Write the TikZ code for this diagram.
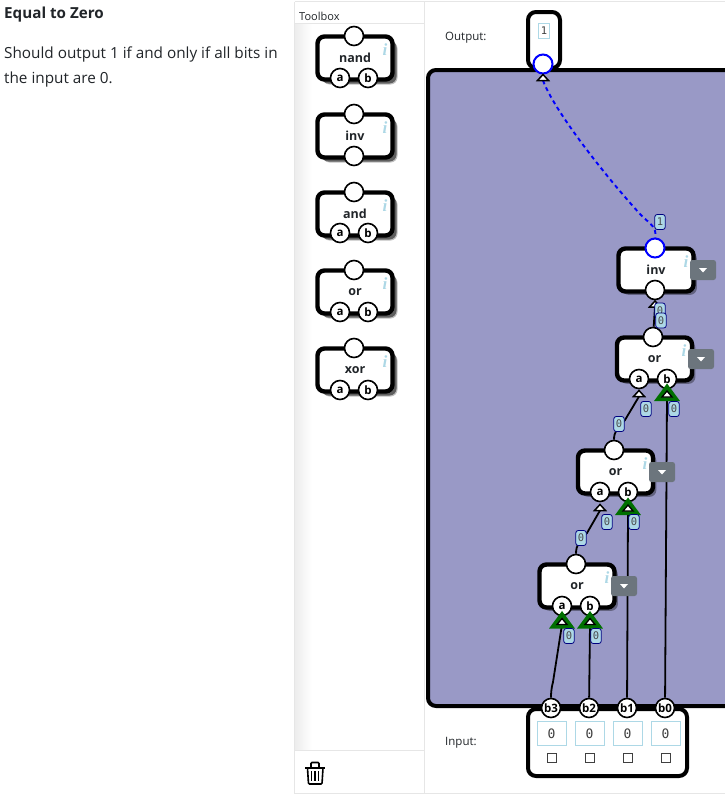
\documentclass[tikz,border=0pt]{standalone}
\usepackage{fontspec}
\setmainfont{Open Sans}
\newfontfamily\monof{DejaVu Sans Mono}
\newfontfamily\ifont{Liberation Serif}
\usetikzlibrary{shadows}
\pgfdeclarelayer{back}
\pgfdeclarelayer{wires}
\pgfsetlayers{back,wires,main}
\definecolor{board}{HTML}{9999C6}
\definecolor{tagfill}{HTML}{ADD8E6}
\definecolor{txt}{HTML}{212529}
\definecolor{btn}{HTML}{6C757D}
\definecolor{rulec}{HTML}{E6E6E6}
\definecolor{gate}{HTML}{007000}
\tikzset{
  gatebox/.style={draw=black,line width=4.4pt,fill=white,rounded corners=7pt,minimum width=75pt,minimum height=43pt,inner sep=0pt},
  toolshadow/.style={drop shadow={shadow xshift=5pt,shadow yshift=-5pt,fill=black,opacity=.25},drop shadow={shadow xshift=4pt,shadow yshift=-4pt,fill=black,opacity=.5}},
  boardshadow/.style={drop shadow={shadow xshift=3.4pt,shadow yshift=-3.4pt,fill=black,opacity=.35}},
  pin/.style={circle,draw=black,line width=1.6pt,fill=white,minimum size=19pt,inner sep=0pt,font=\bfseries\fontsize{11.5}{11.5}\selectfont},
  bluepin/.style={pin,draw=blue,line width=2pt},
  gatelabel/.style={inner sep=0pt,font=\bfseries\fontsize{12.5}{12.5}\selectfont,text=txt},
  infomark/.style={inner sep=0pt,text=tagfill,font=\ifont\bfseries\itshape\fontsize{17}{17}\selectfont},
  wiretag/.style={draw=blue!50!black,line width=.8pt,fill=tagfill,rounded corners=2.5pt,minimum width=10.5pt,minimum height=15pt,inner sep=0pt,font=\monof\fontsize{10.5}{10.5}\selectfont,text=black!70},
  wire/.style={draw=black,line width=1.8pt},
  bluewire/.style={draw=blue,line width=1.9pt,dash pattern=on 4pt off 3.5pt},
  plain/.style={inner sep=0pt,anchor=base west,text=txt},
  valuebox/.style={draw=tagfill,line width=.9pt,fill=white,minimum width=29pt,minimum height=24pt,inner sep=0pt,font=\monof\fontsize{13}{13}\selectfont,text=black!75},
  outvalue/.style={draw=tagfill,line width=.9pt,fill=white,minimum width=11.5pt,minimum height=15pt,inner sep=0pt,font=\monof\fontsize{10.5}{10.5}\selectfont,text=black!75},
  checkb/.style={draw=black!75,line width=1.1pt,fill=white,minimum size=9pt,inner sep=0pt},
  dropbtn/.style={fill=btn,rounded corners=2.5pt,minimum width=26pt,minimum height=20pt,inner sep=0pt},
  frame/.style={draw=black,line width=4pt,rounded corners=8pt}
}
\newcommand{\smalltri}[3]{\coordinate (#1) at (#2,#3);
  \draw[black,line width=1.5pt,fill=white,line join=miter] ([xshift=-5.5pt]#1) -- ([xshift=5.5pt]#1) -- ([yshift=6pt]#1) -- cycle;}
\newcommand{\greentri}[3]{\coordinate (#1) at (#2,#3);
  \draw[gate,line width=3pt,fill=gate,line join=miter] ([shift={(-10pt,-2.5pt)}]#1) -- ([shift={(10pt,-2.5pt)}]#1) -- ([yshift=11pt]#1) -- cycle;
  \draw[black,line width=1.3pt,fill=white,line join=miter] ([xshift=-5pt]#1) -- ([xshift=5pt]#1) -- ([yshift=6pt]#1) -- cycle;}
\newcommand{\caretbtn}[3]{\node[dropbtn] (#1) at (#2,#3) {};
  \fill[white] ([shift={(-4pt,2pt)}]#1.center) -- ([shift={(4pt,2pt)}]#1.center) -- ([yshift=-2.5pt]#1.center) -- cycle;}
\begin{document}
\begin{tikzpicture}[x=1pt,y=-1pt]
\clip (0,0) rectangle (725,803);
\begin{pgfonlayer}{back}
\fill[white] (0,0) rectangle (725,803);
% toolbox panel
\shade[left color=black!7,right color=white] (295,24) rectangle (312,750);
\draw[rulec,line width=1pt] (294.5,2) -- (294.5,793.5) -- (424,793.5);
\draw[rulec,line width=1pt] (294.5,1.5) -- (725,1.5);
\draw[rulec,line width=1pt] (295,23.5) -- (424,23.5);
\draw[rulec,line width=1pt] (295,750.5) -- (424,750.5);
\draw[rulec,line width=1pt] (424,2) -- (424,793.5) -- (725,793.5);
% output and input boxes, board
\draw[frame,fill=white] (528,12) rectangle (560,68);
\draw[frame,fill=white] (528,709) rectangle (687,776);
\draw[frame,fill=board] (428,70) rectangle (740,706);
% gate bodies on the board
\node[gatebox,boardshadow] (invB) at (656,270) {};
\node[gatebox,boardshadow] (or1) at (654.5,359) {};
\node[gatebox,boardshadow] (or2) at (615.5,472) {};
\node[gatebox,boardshadow] (or3) at (577,586) {};
\end{pgfonlayer}

% left text
\node[plain,font=\bfseries\fontsize{15.2}{15.2}\selectfont] (title) at (4,18) {Equal to Zero};
\node[plain,font=\fontsize{15.3}{15.3}\selectfont] (line1) at (4,58.5) {Should output 1 if and only if all bits in};
\node[plain,font=\fontsize{15.3}{15.3}\selectfont] (line2) at (4,83) {the input are 0.};
\node[plain,font=\fontsize{11}{11}\selectfont] (toolboxhead) at (299,20) {Toolbox};

% trash icon
\draw[black,line width=1.6pt,rounded corners=1pt] (307.5,768) -- (308.5,784) -- (322,784) -- (323,768);
\draw[black,line width=2pt] (305,767.5) -- (325,767.5);
\draw[black,line width=1.6pt,rounded corners=1pt] (311,767) -- (311,762.5) -- (319,762.5) -- (319,767);
\draw[black,line width=1.7pt] (311.5,771) -- (311.5,781) (315,771) -- (315,781) (318.5,771) -- (318.5,781);

% toolbox gates
\node[gatebox,toolshadow] (gNand) at (355,58) {};
\node[gatelabel] at (gNand.center) {nand};
\node[infomark] at (385,50) {i};
\node[pin] (gNandO) at (354,36) {};
\node[pin] (gNandA) at (340,78) {a};
\node[pin] (gNandB) at (368,78) {b};

\node[gatebox,toolshadow] (gInv) at (355,136) {};
\node[gatelabel] at (gInv.center) {inv};
\node[infomark] at (385,128) {i};
\node[pin] (gInvO) at (354,114) {};
\node[pin] (gInvI) at (354,156) {};

\node[gatebox,toolshadow] (gAnd) at (355,214) {};
\node[gatelabel] at (gAnd.center) {and};
\node[infomark] at (385,206) {i};
\node[pin] (gAndO) at (354,192) {};
\node[pin] (gAndA) at (340,233) {a};
\node[pin] (gAndB) at (368,233) {b};

\node[gatebox,toolshadow] (gOr) at (355,292) {};
\node[gatelabel] at (gOr.center) {or};
\node[infomark] at (385,284) {i};
\node[pin] (gOrO) at (354,270) {};
\node[pin] (gOrA) at (340,312) {a};
\node[pin] (gOrB) at (368,312) {b};

\node[gatebox,toolshadow] (gXor) at (355,370) {};
\node[gatelabel] at (gXor.center) {xor};
\node[infomark] at (385,362) {i};
\node[pin] (gXorO) at (354,348) {};
\node[pin] (gXorA) at (340,390) {a};
\node[pin] (gXorB) at (368,390) {b};

% labels
\node[plain,font=\fontsize{11.5}{11.5}\selectfont] (outlabel) at (445,40.5) {Output:};
\node[plain,font=\fontsize{11.5}{11.5}\selectfont] (inlabel) at (445,745) {Input:};

% gate texts on the board
\node[gatelabel] at (invB.center) {inv};
\node[infomark] at (686,262) {i};
\node[gatelabel] at (or1.center) {or};
\node[infomark] at (684,351) {i};
\node[gatelabel] at (or2.center) {or};
\node[infomark] at (645,464) {i};
\node[gatelabel] at (or3.center) {or};
\node[infomark] at (607,578) {i};

\caretbtn{btnInv}{703}{270}
\caretbtn{btnOr1}{701}{359}
\caretbtn{btnOr2}{662}{472}
\caretbtn{btnOr3}{624}{586}

% pins
\node[bluepin] (outP) at (543,64) {};
\node[bluepin] (invO) at (655,248) {};
\node[pin] (invI) at (655,290) {};
\node[pin] (or1O) at (653,337) {};
\node[pin] (or1A) at (639,379) {a};
\node[pin] (or1B) at (667,379) {b};
\node[pin] (or2O) at (614,450) {};
\node[pin] (or2A) at (600,492) {a};
\node[pin] (or2B) at (628,492) {b};
\node[pin] (or3O) at (576,564) {};
\node[pin] (or3A) at (562,606) {a};
\node[pin] (or3B) at (590,606) {b};
\node[pin] (b3) at (551,708) {b3};
\node[pin] (b2) at (589,708) {b2};
\node[pin] (b1) at (627,708) {b1};
\node[pin] (b0) at (665,708) {b0};

% input triangles
\smalltri{tOut}{543}{80.5}
\smalltri{tInv}{655}{307}
\smalltri{tOr1A}{639}{396.5}
\smalltri{tOr2A}{600}{510.5}
\greentri{tOr1B}{667}{397}
\greentri{tOr2B}{628}{511}
\greentri{tOr3A}{562}{624.5}
\greentri{tOr3B}{590}{624.5}

% connectors, beneath pins and triangles
\begin{pgfonlayer}{wires}
\draw[bluewire] (tOut) .. controls (553,108) and (600,170) .. (640,214) .. controls (652,226) and (656,226) .. (invO);
\draw[wire] (tInv) -- (or1O);
\draw[wire] (tOr1A) -- (625,420) .. controls (617,428) and (614,432) .. (or2O);
\draw[wire] (tOr1B) -- (b0);
\draw[wire] (tOr2A) -- (587,533) .. controls (579,540) and (576,546) .. (or3O);
\draw[wire] (tOr2B) -- (b1);
\draw[wire] (tOr3A) -- (553,682) .. controls (551,690) and (551,694) .. (b3);
\draw[wire] (tOr3B) -- (b2);
\end{pgfonlayer}

% wire tags
\node[wiretag] (tag1) at (660,222) {1};
\node[wiretag] (tag2) at (660,310.5) {0};
\node[wiretag] (tag3) at (661,320.5) {0};
\node[wiretag] (tag4) at (646,409) {0};
\node[wiretag] (tag5) at (619,424) {0};
\node[wiretag] (tag6) at (674,409) {0};
\node[wiretag] (tag7) at (607,522) {0};
\node[wiretag] (tag8) at (581,538) {0};
\node[wiretag] (tag9) at (634,522) {0};
\node[wiretag] (tag10) at (569,636) {0};
\node[wiretag] (tag11) at (596,636) {0};

% values
\node[outvalue] (outV) at (544,30.5) {1};
\node[valuebox] (v3) at (551.5,733.5) {0};
\node[valuebox] (v2) at (589.5,733.5) {0};
\node[valuebox] (v1) at (627.5,733.5) {0};
\node[valuebox] (v0) at (665.5,733.5) {0};
\node[checkb] (c3) at (552,758) {};
\node[checkb] (c2) at (590,758) {};
\node[checkb] (c1) at (628,758) {};
\node[checkb] (c0) at (666,758) {};
\end{tikzpicture}
\end{document}
